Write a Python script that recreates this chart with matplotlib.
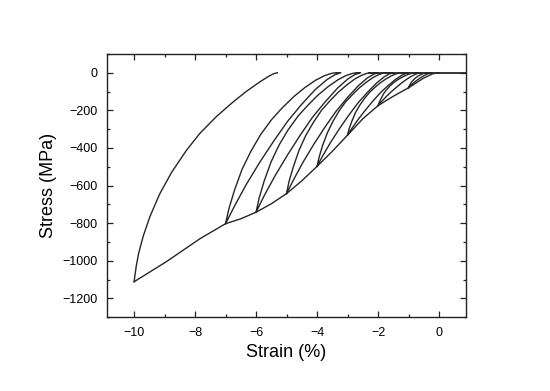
import matplotlib.pyplot as plt
from matplotlib.ticker import MultipleLocator

plt.rcParams['font.family'] = ['Liberation Sans', 'DejaVu Sans']

# loading envelope (strain %, stress MPa)
env_strain = [0.0, -0.2, -0.5, -1.0, -1.5, -2.0, -2.5, -3.0, -3.5, -4.0, -4.5, -5.0,
              -5.5, -6.0, -6.5, -7.0, -7.84, -8.94, -10.0]
env_stress = [0, -5, -28, -80, -125, -175, -245, -332, -418, -498, -575, -643,
              -697, -742, -777, -803, -883, -1005, -1112]

# final unloading from -10 %
unl10_strain = [-10.0, -9.93, -9.85, -9.70, -9.48, -9.16, -8.77, -8.28, -7.84, -7.30,
                -6.75, -6.31, -5.87, -5.60, -5.42, -5.30]
unl10_stress = [-1112, -1030, -960, -869, -765, -645, -530, -412, -322, -233,
                -155, -98, -48, -20, -5, 0]

# hysteresis loops: unloading branch, then reloading branch back to the peak
loop7_strain = [-7.0, -6.89, -6.71, -6.46, -6.17, -5.85, -5.49, -5.13, -4.77, -4.41,
                -4.05, -3.76, -3.54, -3.40,
                -3.22, -3.41, -3.67, -4.05, -4.51, -4.96, -5.41, -5.87, -6.32, -6.70, -7.0]
loop7_stress = [-803, -723, -626, -514, -418, -329, -249, -185, -128, -80,
                -40, -16, -4, 0,
                0, -10, -36, -88, -169, -257, -361, -474, -594, -707, -803]

loop6_strain = [-6.0, -5.90, -5.74, -5.51, -5.25, -4.95, -4.62, -4.29, -3.97, -3.64,
                -3.31, -3.05, -2.85, -2.72,
                -2.58, -2.75, -2.99, -3.33, -3.74, -4.15, -4.56, -4.97, -5.38, -5.73, -6.0]
loop6_stress = [-742, -668, -579, -475, -386, -304, -230, -171, -119, -74,
                -37, -15, -4, 0,
                0, -9, -33, -82, -156, -237, -334, -438, -549, -653, -742]

loop5_strain = [-5.0, -4.92, -4.78, -4.59, -4.37, -4.12, -3.85, -3.57, -3.30, -3.02,
                -2.75, -2.53, -2.36, -2.25,
                -2.0, -2.15, -2.36, -2.66, -3.02, -3.38, -3.74, -4.10, -4.46, -4.76, -5.0]
loop5_stress = [-643, -579, -502, -412, -334, -264, -199, -148, -103, -64,
                -32, -13, -3, 0,
                0, -8, -29, -71, -135, -206, -289, -379, -476, -566, -643]

loop4_strain = [-4.0, -3.93, -3.82, -3.66, -3.48, -3.28, -3.06, -2.83, -2.61, -2.38,
                -2.16, -1.98, -1.84, -1.75,
                -1.5, -1.63, -1.80, -2.05, -2.35, -2.65, -2.95, -3.25, -3.55, -3.80, -4.0]
loop4_stress = [-498, -448, -388, -319, -259, -204, -154, -115, -80, -50,
                -25, -10, -2, 0,
                0, -6, -22, -55, -105, -159, -224, -294, -369, -438, -498]

loop3_strain = [-3.0, -2.95, -2.86, -2.74, -2.60, -2.44, -2.27, -2.09, -1.92, -1.74,
                -1.57, -1.43, -1.32, -1.25,
                -1.0, -1.10, -1.24, -1.44, -1.68, -1.92, -2.16, -2.40, -2.64, -2.84, -3.0]
loop3_stress = [-332, -299, -259, -212, -173, -136, -103, -76, -53, -33,
                -17, -7, -2, 0,
                0, -4, -15, -37, -70, -106, -149, -196, -246, -292, -332]

loop2_strain = [-2.0, -1.96, -1.90, -1.82, -1.72, -1.62, -1.50, -1.38, -1.26, -1.14,
                -1.02, -0.92, -0.85, -0.80,
                -0.60, -0.67, -0.77, -0.91, -1.08, -1.24, -1.41, -1.58, -1.75, -1.89, -2.0]
loop2_stress = [-175, -158, -137, -112, -91, -72, -54, -40, -28, -18,
                -9, -4, -1, 0,
                0, -2, -8, -19, -37, -56, -79, -103, -130, -154, -175]

loop1_strain = [-1.0, -0.98, -0.95, -0.91, -0.86, -0.81, -0.75, -0.69, -0.63, -0.57,
                -0.51, -0.46, -0.42, -0.40,
                -0.25, -0.29, -0.34, -0.42, -0.51, -0.60, -0.69, -0.78, -0.87, -0.94, -1.0]
loop1_stress = [-80, -72, -62, -51, -42, -33, -25, -18, -13, -8,
                -4, -2, 0, 0,
                0, -1, -4, -9, -17, -26, -36, -47, -59, -70, -80]

# zero-stress hold
hold_strain = [-2.3, 1.0]
hold_stress = [0, 0]

fig = plt.figure(figsize=(5.5, 3.91), dpi=100)
ax = fig.add_axes([0.195, 0.189, 0.652, 0.673])

c = '#262626'
lw = 1.0
ax.plot(env_strain, env_stress, color=c, lw=lw)
ax.plot(unl10_strain, unl10_stress, color=c, lw=lw)
for xs, ys in [(loop7_strain, loop7_stress), (loop6_strain, loop6_stress),
               (loop5_strain, loop5_stress), (loop4_strain, loop4_stress),
               (loop3_strain, loop3_stress), (loop2_strain, loop2_stress),
               (loop1_strain, loop1_stress)]:
    ax.plot(xs, ys, color=c, lw=lw)
ax.plot(hold_strain, hold_stress, color=c, lw=1.3)

ax.set_xlim(-10.88, 0.88)
ax.set_ylim(-1300, 100)
ax.xaxis.set_major_locator(MultipleLocator(2))
ax.xaxis.set_minor_locator(MultipleLocator(1))
ax.yaxis.set_major_locator(MultipleLocator(200))
ax.yaxis.set_minor_locator(MultipleLocator(100))
ax.tick_params(which='both', direction='in', top=True, right=True, labelsize=9,
               pad=7, width=0.9, color='#222222')
ax.tick_params(which='major', length=4)
ax.tick_params(which='minor', length=2)
for s in ax.spines.values():
    s.set_linewidth(1.0)
    s.set_color('#222222')

ax.set_xlabel('Strain (%)', fontsize=13, labelpad=4)
ax.set_ylabel('Stress (MPa)', fontsize=13, labelpad=4)

fig.savefig('out.png', dpi=100)
